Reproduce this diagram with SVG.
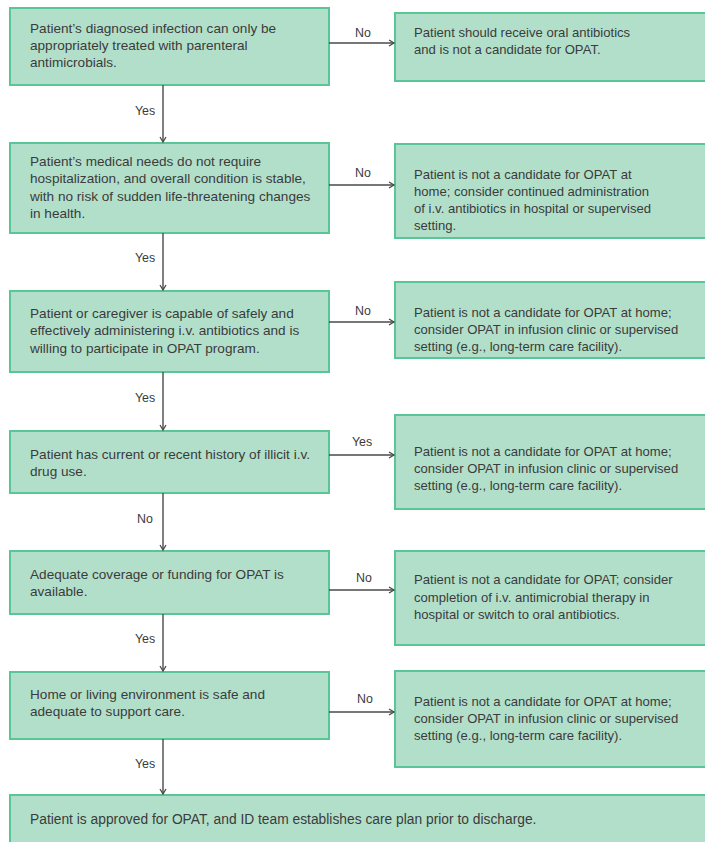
<svg xmlns="http://www.w3.org/2000/svg" width="705" height="842" viewBox="0 0 705 842">
<style>
.box{fill:#b2dfca;stroke:#5ac596;stroke-width:2}
.t{font-family:"Liberation Sans",Arial,sans-serif;font-size:13.6px;fill:#3b3b3b}
.r{font-size:13.1px}
.b{font-size:13.8px}
.lbl{font-family:"Liberation Sans",Arial,sans-serif;font-size:12.4px;fill:#3b3b3b;text-anchor:middle}
.c{stroke:#4a4a4a;stroke-width:1.4;fill:none}
</style>
<defs>
<marker id="ah" markerWidth="8" markerHeight="8" refX="6" refY="4" orient="auto" markerUnits="userSpaceOnUse">
<path d="M1,1 L6,4 L1,7" fill="none" stroke="#4a4a4a" stroke-width="1.3"/>
</marker>
</defs>
<rect width="705" height="842" fill="#ffffff"/>

<g id="q1">
<rect class="box" x="10" y="8" width="319" height="77"/>
<text class="t" x="30" y="33">Patient’s diagnosed infection can only be</text>
<text class="t" x="30" y="50">appropriately treated with parenteral</text>
<text class="t" x="30" y="67">antimicrobials.</text>
</g>
<g id="r1">
<rect class="box" x="395" y="13" width="320" height="68"/>
<text class="t r" x="414" y="37">Patient should receive oral antibiotics</text>
<text class="t r" x="414" y="54">and is not a candidate for OPAT.</text>
</g>

<g id="q2">
<rect class="box" x="10" y="143" width="319" height="90"/>
<text class="t" x="30" y="166">Patient’s medical needs do not require</text>
<text class="t" x="30" y="183">hospitalization, and overall condition is stable,</text>
<text class="t" x="30" y="201">with no risk of sudden life-threatening changes</text>
<text class="t" x="30" y="218">in health.</text>
</g>
<g id="r2">
<rect class="box" x="395" y="144" width="320" height="94"/>
<text class="t r" x="414" y="179">Patient is not a candidate for OPAT at</text>
<text class="t r" x="414" y="196">home; consider continued administration</text>
<text class="t r" x="414" y="213">of i.v. antibiotics in hospital or supervised</text>
<text class="t r" x="414" y="230">setting.</text>
</g>

<g id="q3">
<rect class="box" x="10" y="291" width="319" height="81"/>
<text class="t" x="30" y="318">Patient or caregiver is capable of safely and</text>
<text class="t" x="30" y="335">effectively administering i.v. antibiotics and is</text>
<text class="t" x="30" y="353">willing to participate in OPAT program.</text>
</g>
<g id="r3">
<rect class="box" x="395" y="282" width="320" height="76"/>
<text class="t r" x="414" y="317">Patient is not a candidate for OPAT at home;</text>
<text class="t r" x="414" y="334">consider OPAT in infusion clinic or supervised</text>
<text class="t r" x="414" y="351">setting (e.g., long-term care facility).</text>
</g>

<g id="q4">
<rect class="box" x="10" y="431" width="319" height="62"/>
<text class="t" x="30" y="459">Patient has current or recent history of illicit i.v.</text>
<text class="t" x="30" y="476">drug use.</text>
</g>
<g id="r4">
<rect class="box" x="395" y="415" width="320" height="94"/>
<text class="t r" x="414" y="456">Patient is not a candidate for OPAT at home;</text>
<text class="t r" x="414" y="473">consider OPAT in infusion clinic or supervised</text>
<text class="t r" x="414" y="490">setting (e.g., long-term care facility).</text>
</g>

<g id="q5">
<rect class="box" x="10" y="551" width="319" height="63"/>
<text class="t" x="30" y="579">Adequate coverage or funding for OPAT is</text>
<text class="t" x="30" y="596">available.</text>
</g>
<g id="r5">
<rect class="box" x="395" y="551" width="320" height="94"/>
<text class="t r" x="414" y="584">Patient is not a candidate for OPAT; consider</text>
<text class="t r" x="414" y="602">completion of i.v. antimicrobial therapy in</text>
<text class="t r" x="414" y="619">hospital or switch to oral antibiotics.</text>
</g>

<g id="q6">
<rect class="box" x="10" y="672" width="319" height="67"/>
<text class="t" x="30" y="699">Home or living environment is safe and</text>
<text class="t" x="30" y="716">adequate to support care.</text>
</g>
<g id="r6">
<rect class="box" x="395" y="671" width="320" height="96"/>
<text class="t r" x="414" y="706">Patient is not a candidate for OPAT at home;</text>
<text class="t r" x="414" y="723">consider OPAT in infusion clinic or supervised</text>
<text class="t r" x="414" y="740">setting (e.g., long-term care facility).</text>
</g>

<g id="final">
<rect class="box" x="10" y="795" width="705" height="60"/>
<text class="t b" x="30" y="824">Patient is approved for OPAT, and ID team establishes care plan prior to discharge.</text>
</g>

<g id="connectors">
<line class="c" x1="329" y1="43" x2="394" y2="43" marker-end="url(#ah)"/>
<line class="c" x1="329" y1="185" x2="394" y2="185" marker-end="url(#ah)"/>
<line class="c" x1="329" y1="322" x2="394" y2="322" marker-end="url(#ah)"/>
<line class="c" x1="329" y1="455" x2="394" y2="455" marker-end="url(#ah)"/>
<line class="c" x1="329" y1="590" x2="394" y2="590" marker-end="url(#ah)"/>
<line class="c" x1="329" y1="712" x2="394" y2="712" marker-end="url(#ah)"/>
<line class="c" x1="163" y1="85" x2="163" y2="142" marker-end="url(#ah)"/>
<line class="c" x1="163" y1="233" x2="163" y2="290" marker-end="url(#ah)"/>
<line class="c" x1="163" y1="372" x2="163" y2="430" marker-end="url(#ah)"/>
<line class="c" x1="163" y1="493" x2="163" y2="550" marker-end="url(#ah)"/>
<line class="c" x1="163" y1="614" x2="163" y2="671" marker-end="url(#ah)"/>
<line class="c" x1="163" y1="739" x2="163" y2="794" marker-end="url(#ah)"/>
<text class="lbl" x="363" y="37">No</text>
<text class="lbl" x="363" y="177">No</text>
<text class="lbl" x="363" y="315">No</text>
<text class="lbl" x="362" y="446">Yes</text>
<text class="lbl" x="364" y="582">No</text>
<text class="lbl" x="365" y="703">No</text>
<text class="lbl" x="145" y="115">Yes</text>
<text class="lbl" x="145" y="262">Yes</text>
<text class="lbl" x="145" y="402">Yes</text>
<text class="lbl" x="145" y="523">No</text>
<text class="lbl" x="145" y="643">Yes</text>
<text class="lbl" x="145" y="768">Yes</text>
</g>
</svg>
